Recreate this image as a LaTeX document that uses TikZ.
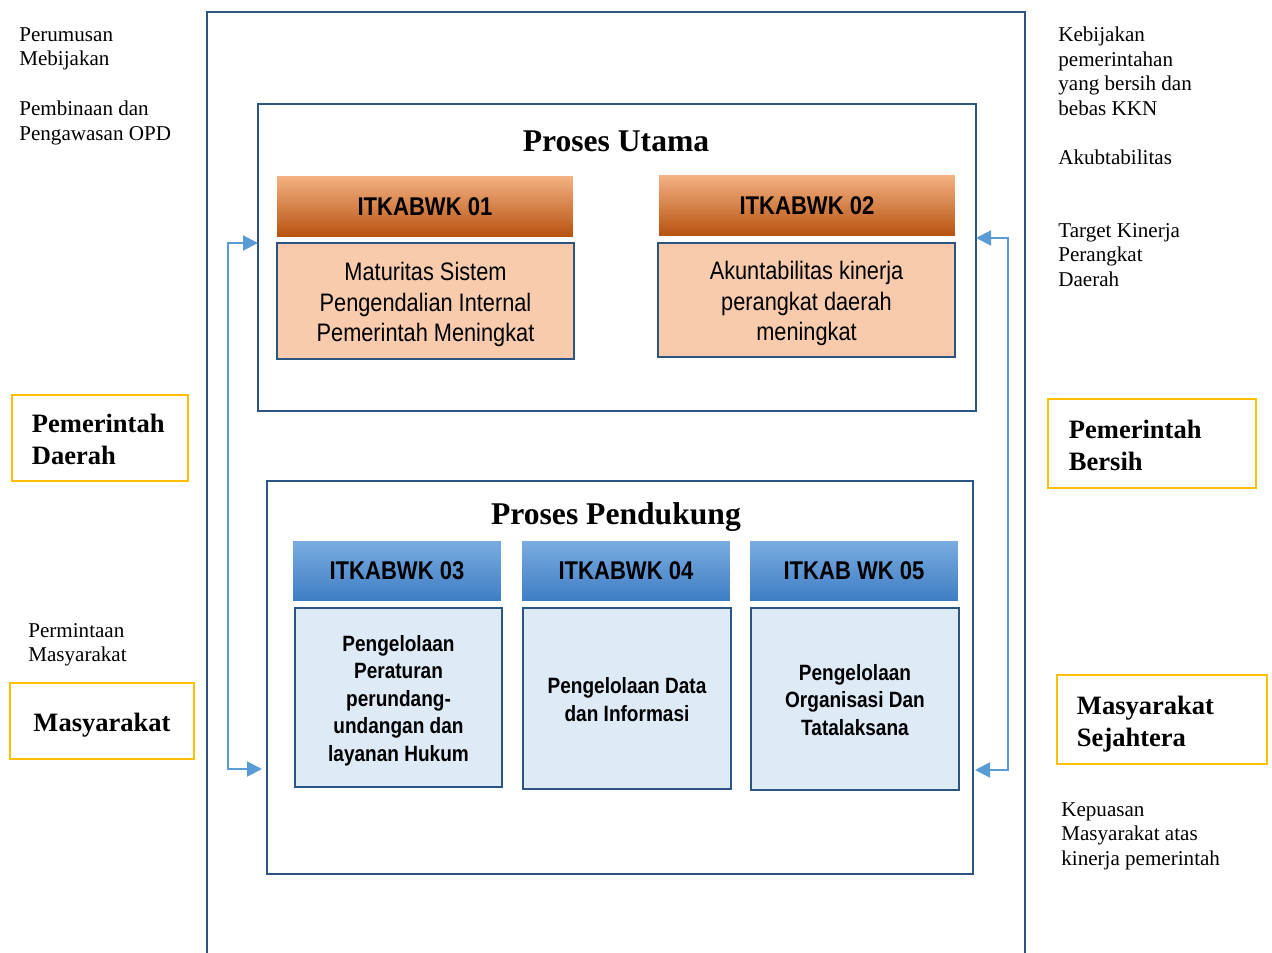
\documentclass[tikz,border=0pt]{standalone}
\usepackage{fontspec}
\setmainfont{Liberation Serif}
\newfontfamily\narrowfont[FakeStretch=0.86]{Liberation Sans}
\usetikzlibrary{arrows.meta,calc}
\definecolor{dblue}{RGB}{44,85,130}
\definecolor{ablue}{RGB}{91,155,213}
\definecolor{ygold}{RGB}{255,192,0}
\definecolor{ofill}{RGB}{248,203,173}
\definecolor{bfill}{RGB}{222,234,246}
\definecolor{otop}{RGB}{244,177,131}
\definecolor{omid}{RGB}{237,125,49}
\definecolor{obot}{RGB}{184,82,15}
\definecolor{btop}{RGB}{122,172,224}
\definecolor{bmid}{RGB}{85,150,219}
\definecolor{bbot}{RGB}{62,125,196}
\tikzset{
  frame/.style={draw=dblue, line width=1.4pt, inner sep=0pt},
  ohead/.style={inner sep=0pt, top color=otop, middle color=omid, bottom color=obot, minimum width=5.92cm, minimum height=1.2cm, font=\narrowfont\bfseries\fontsize{14.6}{16}\selectfont},
  bhead/.style={inner sep=0pt, top color=btop, middle color=bmid, bottom color=bbot, minimum width=4.16cm, minimum height=1.2cm, font=\narrowfont\bfseries\fontsize{14.6}{16}\selectfont},
  obox/.style={draw=dblue, line width=1.6pt, fill=ofill, inner sep=0pt},
  otext/.style={inner sep=0pt, align=center, font=\narrowfont\fontsize{14.4}{17.6}\selectfont},
  bbox/.style={draw=dblue, line width=1.6pt, fill=bfill, inner sep=0pt},
  btext/.style={inner sep=0pt, align=center, font=\narrowfont\bfseries\fontsize{12.6}{15.6}\selectfont},
  ybox/.style={draw=ygold, line width=1.6pt, inner sep=0pt},
  ytext/.style={inner sep=0pt, align=left, font=\bfseries\fontsize{15.1}{18.1}\selectfont},
  note/.style={anchor=north west, inner sep=0pt, align=left, font=\fontsize{12}{13.9}\selectfont},
  ptitle/.style={inner sep=0pt, font=\bfseries\fontsize{18}{21}\selectfont},
  conn/.style={draw=ablue, line width=1.1pt, {Triangle[length=0.3cm,width=0.3cm]}-{Triangle[length=0.3cm,width=0.3cm]}}
}
\begin{document}
\begin{tikzpicture}[x=0.02cm,y=-0.02cm]
\useasboundingbox (0,0) rectangle (1272,953);
% outer frame
\draw[dblue, line width=1.4pt] (207,970) -- (207,12) -- (1025,12) -- (1025,970);
% process boxes
\node[frame, minimum width=14.36cm, minimum height=6.14cm] (pu) at (617,257.5) {};
\node[ptitle] (tpu) at (616,141.5) {Proses Utama};
\node[frame, minimum width=14.12cm, minimum height=7.86cm] (pp) at (620,677.5) {};
\node[ptitle] (tpp) at (616,517) {Proses Pendukung};
% main process
\node[ohead] (h1) at (425,206.5) {ITKABWK 01};
\node[ohead] (h2) at (807,205.5) {ITKABWK 02};
\node[obox, minimum width=5.94cm, minimum height=2.32cm] (b1) at (425.5,301) {};
\node[otext] (t1) at ($(b1.center)+(0,3.5)$) {Maturitas Sistem\\Pengendalian Internal\\Pemerintah Meningkat};
\node[obox, minimum width=5.94cm, minimum height=2.28cm] (b2) at (806.5,300) {};
\node[otext] (t2) at ($(b2.center)+(0,3.5)$) {Akuntabilitas kinerja\\perangkat daerah\\meningkat};
% support process
\node[bhead] (h3) at (397,571) {ITKABWK 03};
\node[bhead] (h4) at (626,571) {ITKABWK 04};
\node[bhead] (h5) at (854,571) {ITKAB WK 05};
\node[bbox, minimum width=4.14cm, minimum height=3.58cm] (b3) at (398.5,697.5) {};
\node[btext] (t3) at ($(b3.center)+(0,3)$) {Pengelolaan\\Peraturan\\perundang-\\undangan dan\\layanan Hukum};
\node[bbox, minimum width=4.16cm, minimum height=3.62cm] (b4) at (627,698.5) {};
\node[btext] (t4) at ($(b4.center)+(0,1)$) {Pengelolaan Data\\dan Informasi};
\node[bbox, minimum width=4.16cm, minimum height=3.64cm] (b5) at (855,699) {};
\node[btext] (t5) at ($(b5.center)+(0,1)$) {Pengelolaan\\Organisasi Dan\\Tatalaksana};
% left side
\node[note] (n1) at (19,27) {Perumusan\\Mebijakan};
\node[note] (n2) at (19,101) {Pembinaan dan\\Pengawasan OPD};
\node[ybox, minimum width=3.52cm, minimum height=1.72cm] (pd) at (100,438) {};
\node[ytext, anchor=west] (pdt) at ($(pd.west)+(21,1.5)$) {Pemerintah\\Daerah};
\node[note] (n3) at (28,623) {Permintaan\\Masyarakat};
\node[ybox, minimum width=3.68cm, minimum height=1.52cm] (ms) at (102,721) {};
\node[ytext] (mst) at ($(ms.center)+(0,4)$) {Masyarakat};
% right side
\node[note] (n4) at (1058,27) {Kebijakan\\pemerintahan\\yang bersih dan\\bebas KKN};
\node[note] (n5) at (1058,150) {Akubtabilitas};
\node[note] (n6) at (1058,223) {Target Kinerja\\Perangkat\\Daerah};
\node[ybox, minimum width=4.16cm, minimum height=1.78cm] (pb) at (1152,443.5) {};
\node[ytext, anchor=west] (pbt) at ($(pb.west)+(22,2)$) {Pemerintah\\Bersih};
\node[ybox, minimum width=4.2cm, minimum height=1.78cm] (mss) at (1162,719.5) {};
\node[ytext, anchor=west] (msst) at ($(mss.west)+(21,4.5)$) {Masyarakat\\Sejahtera};
\node[note] (n7) at (1061,802) {Kepuasan\\Masyarakat atas\\kinerja pemerintah};
% connectors
\coordinate (lt) at (258,243);
\coordinate (lb) at (262,769);
\coordinate (lc1) at (228,243);
\coordinate (lc2) at (228,769);
\draw[conn] (lt) -- (lc1) -- (lc2) -- (lb);
\coordinate (rt) at (976,238);
\coordinate (rb) at (975,770);
\coordinate (rc1) at (1008,238);
\coordinate (rc2) at (1008,770);
\draw[conn] (rt) -- (rc1) -- (rc2) -- (rb);
\end{tikzpicture}
\end{document}
